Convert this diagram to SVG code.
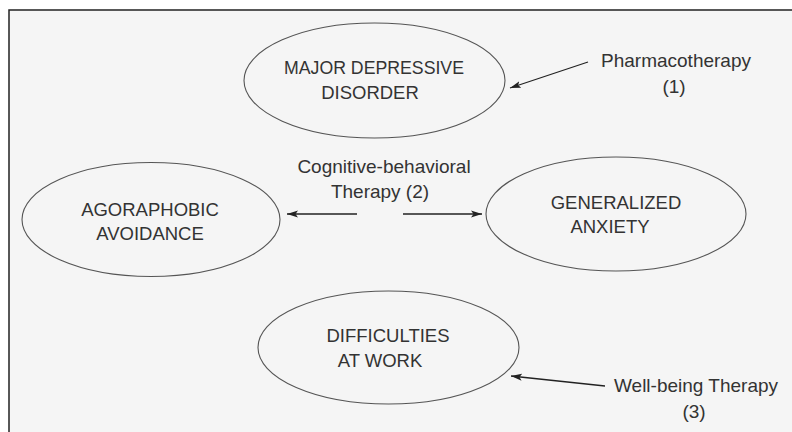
<svg xmlns="http://www.w3.org/2000/svg" width="792" height="432" viewBox="0 0 792 432">
  <defs>
    <marker id="arrow" markerUnits="userSpaceOnUse" markerWidth="12" markerHeight="8" refX="11" refY="4" orient="auto">
      <path d="M0,0.5 L11,4 L0,7.5 L2.5,4 z" fill="#222"/>
    </marker>
    <style>
      .node ellipse { fill: none; stroke: #555; stroke-width: 1.1; }
      .node text { font-family: "Liberation Sans", Arial, sans-serif; font-size: 18.5px; fill: #333; text-anchor: middle; }
      .label text { font-family: "Liberation Sans", Arial, sans-serif; font-size: 19px; fill: #333; text-anchor: middle; }
      .conn line { stroke: #222; stroke-width: 1.3; marker-end: url(#arrow); }
    </style>
  </defs>
  <rect x="0" y="0" width="792" height="432" fill="#ffffff"/>
  <rect x="9" y="10" width="800" height="440" fill="#f5f5f5" stroke="#222" stroke-width="1.5"/>

  <g id="node-mdd" class="node">
    <ellipse cx="374.5" cy="80.5" rx="130.5" ry="57.5"/>
    <text x="374" y="74" textLength="180" lengthAdjust="spacingAndGlyphs">MAJOR DEPRESSIVE</text>
    <text x="370" y="99">DISORDER</text>
  </g>
  <g id="node-agoraphobic" class="node">
    <ellipse cx="151" cy="219.5" rx="129" ry="57"/>
    <text x="150" y="216">AGORAPHOBIC</text>
    <text x="150" y="240">AVOIDANCE</text>
  </g>
  <g id="node-generalized" class="node">
    <ellipse cx="616" cy="214" rx="130" ry="57"/>
    <text x="616" y="209">GENERALIZED</text>
    <text x="610" y="233">ANXIETY</text>
  </g>
  <g id="node-work" class="node">
    <ellipse cx="388.5" cy="347.5" rx="130.5" ry="56.5"/>
    <text x="388" y="342">DIFFICULTIES</text>
    <text x="380" y="367">AT WORK</text>
  </g>

  <g id="label-pharmaco" class="label">
    <text x="676" y="67">Pharmacotherapy</text>
    <text x="674" y="93">(1)</text>
  </g>
  <g id="label-cbt" class="label">
    <text x="384" y="173">Cognitive-behavioral</text>
    <text x="380" y="198">Therapy (2)</text>
  </g>
  <g id="label-wbt" class="label">
    <text x="696" y="392">Well-being Therapy</text>
    <text x="694" y="418">(3)</text>
  </g>

  <g id="connectors" class="conn">
    <line x1="588" y1="62" x2="510" y2="88"/>
    <line x1="357" y1="214" x2="287" y2="214"/>
    <line x1="403" y1="214" x2="482" y2="214"/>
    <line x1="605" y1="386" x2="511" y2="376"/>
  </g>
</svg>
